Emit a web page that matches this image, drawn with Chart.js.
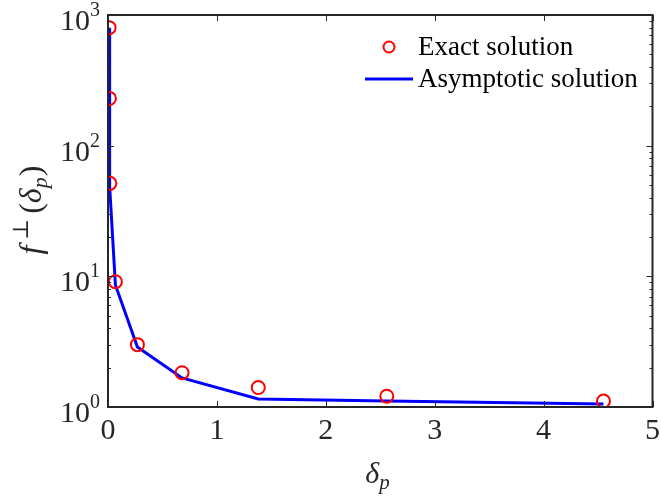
<!DOCTYPE html>
<html>
<head>
<meta charset="utf-8">
<script src="https://cdn.jsdelivr.net/npm/chart.js@4.4.1/dist/chart.umd.min.js"></script>
<style>
  html, body { margin: 0; padding: 0; background: #fff; }
  #wrap { width: 661px; height: 496px; }
</style>
</head>
<body>
<div id="wrap"><canvas id="chart" width="661" height="496"></canvas></div>
<script>
// values
const deltaP = [0.01, 0.013, 0.017, 0.068, 0.27, 0.68, 1.38, 2.56, 4.55];
const exactF = [800, 230, 51.5, 9.1, 3.0, 1.83, 1.41, 1.21, 1.11];
const asympF = [800, 230, 49, 8.6, 2.88, 1.67, 1.15, 1.11, 1.055];
const xTicks = [0, 1, 2, 3, 4, 5];
const yPowers = [0, 1, 2, 3];

const AXIS = '#262626';
const SERIF = '"Liberation Serif", "Times New Roman", serif';

// MATLAB-like box, inward ticks, log labels, axis titles and legend
const matlabAxes = {
  id: 'matlabAxes',
  afterDraw(chart) {
    const ctx = chart.ctx;
    const a = chart.chartArea;
    const xs = chart.scales.x;
    const ys = chart.scales.y;
    ctx.save();
    ctx.strokeStyle = AXIS;
    ctx.lineWidth = 1;

    // ticks on x (bottom and top)
    xTicks.forEach(v => {
      const px = Math.round(xs.getPixelForValue(v)) + 0.5;
      ctx.beginPath();
      ctx.moveTo(px, a.bottom); ctx.lineTo(px, a.bottom - 6);
      ctx.moveTo(px, a.top); ctx.lineTo(px, a.top + 6);
      ctx.stroke();
    });

    // log ticks on y (left and right)
    yPowers.forEach(p => {
      for (let k = 1; k <= 9; k++) {
        const v = k * Math.pow(10, p);
        if (v > 1000) break;
        const py = Math.round(ys.getPixelForValue(v)) + 0.5;
        const len = k === 1 ? 6 : 3;
        ctx.beginPath();
        ctx.moveTo(a.left, py); ctx.lineTo(a.left + len, py);
        ctx.moveTo(a.right, py); ctx.lineTo(a.right - len, py);
        ctx.stroke();
      }
    });

    // box
    ctx.lineWidth = 2;
    ctx.strokeRect(a.left, a.top, a.right - a.left, a.bottom - a.top);

    // y tick labels 10^p
    ctx.fillStyle = AXIS;
    ctx.textBaseline = 'alphabetic';
    ctx.textAlign = 'right';
    yPowers.forEach(p => {
      const py = ys.getPixelForValue(Math.pow(10, p));
      ctx.font = '20px ' + SERIF;
      const ew = ctx.measureText(String(p)).width;
      ctx.fillText(String(p), a.left - 8, py + 1);
      ctx.font = '30px ' + SERIF;
      ctx.fillText('10', a.left - 8 - ew, py + 15);
    });

    // x title: delta_p
    ctx.textAlign = 'left';
    ctx.font = 'italic 30px ' + SERIF;
    const dw = ctx.measureText('\u03b4').width;
    const cx = (a.left + a.right) / 2 - 15;
    ctx.fillText('\u03b4', cx, 483);
    ctx.font = 'italic 21px ' + SERIF;
    ctx.fillText('p', cx + dw, 489);

    // y title: f^perp(delta_p), rotated
    ctx.save();
    ctx.translate(41, 210);
    ctx.rotate(-Math.PI / 2);
    const parts = [
      ['f', 'italic 32px ' + SERIF, 0, 6],
      ['\u22a5', '22px "DejaVu Serif", serif', -13, 5],
      ['(', '32px ' + SERIF, 0, 0],
      ['\u03b4', 'italic 32px ' + SERIF, 0, 0],
      ['p', 'italic 22px ' + SERIF, 6, 1],
      [')', '32px ' + SERIF, 0, 0]
    ];
    let total = 0;
    parts.forEach(pt => { ctx.font = pt[1]; total += ctx.measureText(pt[0]).width + pt[3]; });
    let tx = -total / 2;
    parts.forEach(pt => {
      ctx.font = pt[1];
      ctx.fillText(pt[0], tx, pt[2]);
      tx += ctx.measureText(pt[0]).width + pt[3];
    });
    ctx.restore();

    // legend
    const ds = chart.data.datasets;
    ctx.font = '27px ' + SERIF;
    ctx.textAlign = 'left';
    ctx.textBaseline = 'middle';
    ctx.fillStyle = '#000';
    ctx.lineWidth = 2;
    ctx.strokeStyle = ds[0].borderColor;
    ctx.beginPath();
    ctx.arc(389, 47, 5.5, 0, Math.PI * 2);
    ctx.stroke();
    ctx.fillText(ds[0].label, 418, 48);
    ctx.strokeStyle = ds[1].borderColor;
    ctx.lineWidth = 3;
    ctx.beginPath();
    ctx.moveTo(365, 79); ctx.lineTo(413, 79);
    ctx.stroke();
    ctx.fillText(ds[1].label, 418, 80);
    ctx.restore();
  }
};

new Chart(document.getElementById('chart'), {
  type: 'scatter',
  data: {
    datasets: [
      {
        label: 'Exact solution',
        data: deltaP.map((x, i) => ({ x: x, y: exactF[i] })),
        showLine: false,
        pointStyle: 'circle',
        pointRadius: 6.5,
        pointBorderWidth: 2,
        borderColor: '#ff0000',
        backgroundColor: 'rgba(0,0,0,0)',
        order: 0
      },
      {
        label: 'Asymptotic solution',
        data: deltaP.map((x, i) => ({ x: x, y: asympF[i] })),
        showLine: true,
        pointRadius: 0,
        borderColor: '#0000ff',
        borderWidth: 3,
        tension: 0,
        order: 1
      }
    ]
  },
  options: {
    responsive: false,
    animation: false,
    layout: { padding: { left: 0, top: 15, right: 4, bottom: 0 } },
    plugins: { legend: { display: false }, tooltip: { enabled: false } },
    scales: {
      x: {
        type: 'linear',
        min: 0,
        max: 5,
        afterBuildTicks: s => { s.ticks = xTicks.map(v => ({ value: v })); },
        afterFit: s => { s.height = 89; s.paddingLeft = 0; s.paddingRight = 0; },
        grid: { display: false, drawTicks: false },
        border: { display: false },
        ticks: {
          padding: 6,
          color: AXIS,
          font: { family: SERIF, size: 30 },
          maxRotation: 0
        }
      },
      y: {
        type: 'logarithmic',
        min: 1,
        max: 1000,
        afterFit: s => { s.width = 108; },
        grid: { display: false, drawTicks: false },
        border: { display: false },
        ticks: { display: false }
      }
    }
  },
  plugins: [matlabAxes]
});
</script>
</body>
</html>
